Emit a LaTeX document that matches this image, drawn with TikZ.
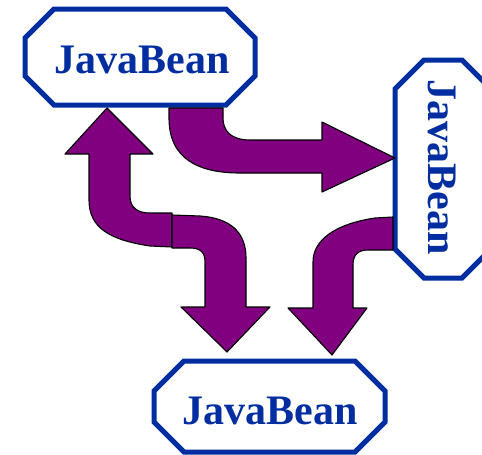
\documentclass[tikz,border=0pt]{standalone}
\usepackage{fontspec}
\setmainfont{Liberation Serif}
\usetikzlibrary{calc}
\definecolor{beanblue}{RGB}{0,45,160}
\definecolor{flowpurple}{RGB}{128,0,128}
\tikzset{
  beanarea/.style={rectangle, draw=none, inner sep=0pt, outer sep=0pt},
  beanframe/.style={draw=beanblue, line width=5pt, fill=white, line join=miter},
  beanlabel/.style={text=beanblue, font=\bfseries\fontsize{42}{42}\selectfont, inner sep=0pt},
  flowarrow/.style={fill=flowpurple, draw=black, line width=1.1pt, line join=round},
}
% octagonal frame drawn around a named node: #1 node, #2 chamfer size
\newcommand\beanoutline[2]{%
  \draw[beanframe]
    ($(#1.north west)+(#2,0)$) -- ($(#1.north east)+(-#2,0)$) --
    ($(#1.north east)+(0,#2)$) -- ($(#1.south east)+(0,-#2)$) --
    ($(#1.south east)+(-#2,0)$) -- ($(#1.south west)+(#2,0)$) --
    ($(#1.south west)+(0,-#2)$) -- ($(#1.north west)+(0,#2)$) -- cycle;}
\begin{document}
\begin{tikzpicture}[x=1pt, y=-1pt]
  \useasboundingbox (0,0) rectangle (482,455);

  % the three beans
  \node[beanarea, minimum width=230pt, minimum height=96pt] (beanA) at (140,57) {};
  \node[beanarea, minimum width=96pt, minimum height=218pt] (beanB) at (443,169) {};
  \node[beanarea, minimum width=231pt, minimum height=91pt] (beanC) at (269.5,406.5) {};
  \beanoutline{beanA}{29}
  \beanoutline{beanB}{29}
  \beanoutline{beanC}{30}
  \node[beanlabel] (labelA) at (142,60) {JavaBean};
  \node[beanlabel, rotate=-90] (labelB) at (442,167) {JavaBean};
  \node[beanlabel] (labelC) at (270,411) {JavaBean};

  % top bean to right bean
  \draw[flowarrow] (169,108) -- (169,118) .. controls (169,160) and (200,173) .. (240,173)
    -- (322,173) -- (322,192) -- (395,158) -- (322,122) -- (322,140) -- (250,140)
    .. controls (230,140) and (223,130) .. (223,118) -- (223,108) -- cycle;

  % left bend: up into the top bean
  \draw[flowarrow] (107,108) -- (153,154) -- (130,154) -- (130,196)
    .. controls (130,208) and (138,213) .. (150,213) -- (172,213) -- (172,247)
    -- (150,246) .. controls (110,240) and (89,228) .. (89,200) -- (89,154)
    -- (65,154) -- cycle;

  % right bend: down into the bottom bean
  \draw[flowarrow] (172,215) -- (200,216) .. controls (230,218) and (246,232) .. (246,258)
    -- (246,307) -- (270,307) -- (227,352) -- (181,307) -- (205,307) -- (205,262)
    .. controls (205,252) and (200,248) .. (190,248) -- (172,248) -- cycle;

  % right bean to bottom bean
  \draw[flowarrow] (393,217) -- (375,218) .. controls (335,224) and (313,240) .. (313,262)
    -- (313,308) -- (288,308) -- (332,355) -- (367,308) -- (353,308) -- (353,265)
    .. controls (353,255) and (358,250) .. (368,250) -- (393,250) -- cycle;
\end{tikzpicture}
\end{document}
